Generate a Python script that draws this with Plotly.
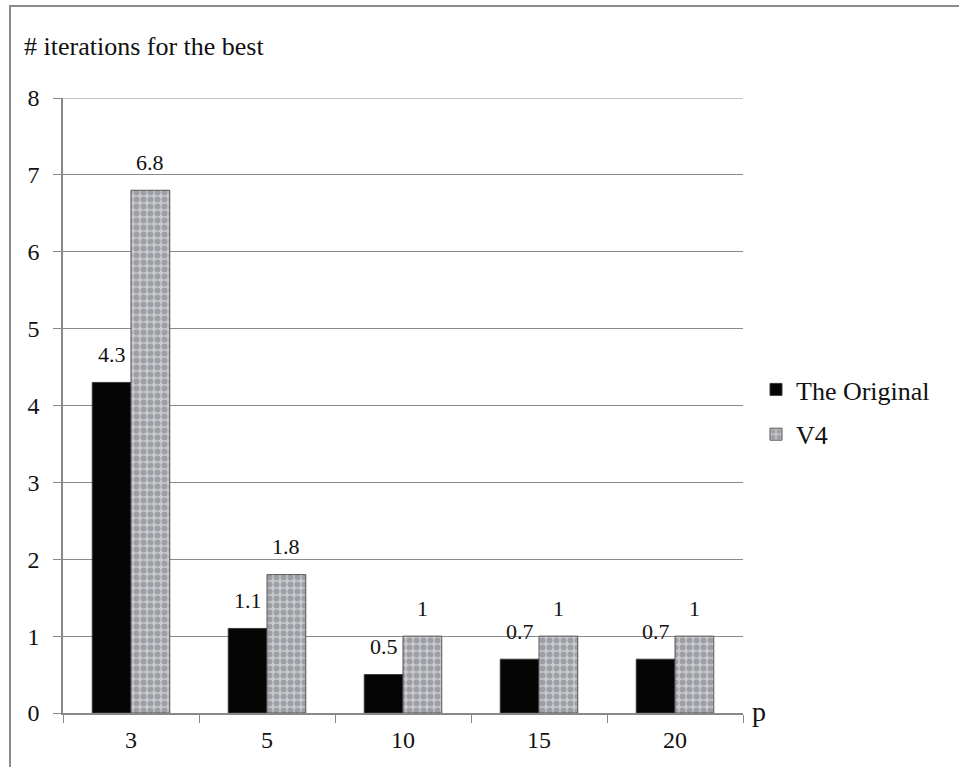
import plotly.graph_objects as go

categories = ["3", "5", "10", "15", "20"]
original = [4.3, 1.1, 0.5, 0.7, 0.7]
v4 = [6.8, 1.8, 1, 1, 1]
series_names = ["The Original", "V4"]
y_ticks = [0, 1, 2, 3, 4, 5, 6, 7, 8]

W, H = 959, 767
L, R, T, B = 63, 216, 98, 54
pw, ph = W - L - R, H - T - B
BARGAP = 0.43

def px_x(x):
    return (x - L) / pw

def px_y(y):
    return (H - B - y) / ph

FONT = "Liberation Serif, Times New Roman, serif"

fig = go.Figure()
fig.add_trace(go.Bar(
    x=categories, y=original, name=series_names[0], legendgroup="g1",
    marker=dict(color="#050505", line=dict(color="#3a3a3a", width=1)),
))
fig.add_trace(go.Bar(
    x=categories, y=v4, name=series_names[1], legendgroup="g2",
    marker=dict(color="#b9babe", line=dict(color="#555555", width=1),
                pattern=dict(shape=".", fgcolor="#74757e", bgcolor="#c8c9cd",
                             size=7, solidity=0.55)),
))

# value labels above bars (positioned on the category axis by index)
bar_px = pw / len(categories) * (1 - BARGAP) / 2
annotations = []
for vals, shift in ((original, -bar_px / 2), (v4, bar_px / 2)):
    for i, v in enumerate(vals):
        annotations.append(dict(
            x=i, y=v, xref="x", yref="y", text=f"{v:g}", showarrow=False,
            xshift=shift, yshift=28, xanchor="center", yanchor="middle",
            font=dict(family=FONT, size=22, color="#111")))

annotations += [
    dict(text="# iterations for the best", xref="paper", yref="paper",
         x=px_x(22), y=px_y(47), xanchor="left", yanchor="middle",
         showarrow=False, font=dict(family=FONT, size=26, color="#111")),
    dict(text="p", xref="paper", yref="paper",
         x=px_x(750), y=px_y(711), xanchor="left", yanchor="middle",
         showarrow=False, font=dict(family=FONT, size=28, color="#111")),
]

fig.update_layout(
    width=W, height=H,
    margin=dict(l=L, r=R, t=T, b=B),
    paper_bgcolor="white", plot_bgcolor="white",
    barmode="group", bargap=BARGAP, bargroupgap=0,
    font=dict(family=FONT, size=24, color="#111"),
    showlegend=True,
    legend=dict(x=px_x(756), y=px_y(366), xanchor="left", yanchor="top",
                font=dict(family=FONT, size=26, color="#111"),
                traceorder="grouped",
                itemwidth=30, tracegroupgap=8, bgcolor="rgba(0,0,0,0)"),
    xaxis=dict(type="category", range=[-0.5, len(categories) - 0.5],
               categoryorder="array", categoryarray=categories,
               tickson="boundaries", ticks="outside", ticklen=8, tickangle=0,
               tickcolor="#888", showline=True, linecolor="#888", linewidth=1.5,
               showgrid=False, tickfont=dict(family=FONT, size=24), ticklabelstandoff=4),
    yaxis=dict(range=[0, 8], tickvals=y_ticks, ticks="outside", ticklen=8,
               tickcolor="#888", showline=True, linecolor="#888", linewidth=1.5,
               showgrid=True, gridcolor="#8a8a8a", gridwidth=1.2, zeroline=False,
               tickfont=dict(family=FONT, size=24), ticklabelstandoff=9),
    shapes=[
        dict(type="rect", xref="paper", yref="paper",
             x0=px_x(10), x1=px_x(975), y0=px_y(790), y1=px_y(6),
             line=dict(color="#8c8c8c", width=2), layer="below"),
        dict(type="line", xref="paper", yref="y", x0=0, x1=1, y0=8, y1=8,
             line=dict(color="#8a8a8a", width=1.2), layer="below"),
    ],
    annotations=annotations,
)

fig.write_html("out.html")
